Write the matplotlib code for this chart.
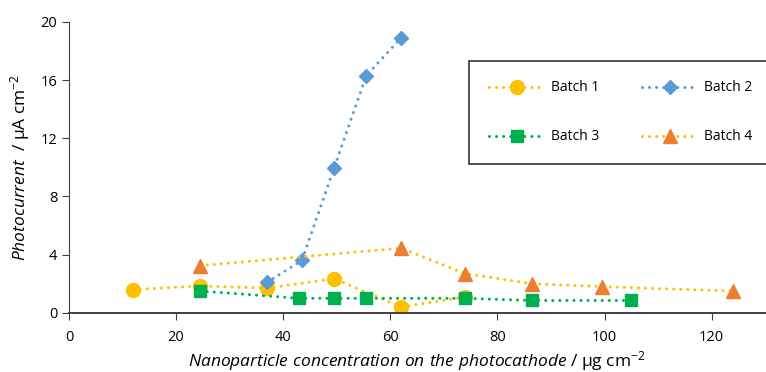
import matplotlib
matplotlib.use("Agg")
import matplotlib.pyplot as plt

plt.rcParams['font.family'] = ['Open Sans', 'DejaVu Sans']
plt.rcParams['mathtext.fontset'] = 'custom'
plt.rcParams['mathtext.rm'] = 'Open Sans'
plt.rcParams['mathtext.it'] = 'Open Sans:italic'

# data
b1_x = [12, 24.5, 37, 49.5, 62, 74]
b1_y = [1.6, 1.85, 1.7, 2.35, 0.4, 1.1]
b2_x = [37, 43.5, 49.5, 55.5, 62]
b2_y = [2.1, 3.6, 9.95, 16.3, 18.9]
b3_x = [24.5, 43, 49.5, 55.5, 74, 86.5, 105]
b3_y = [1.5, 1.0, 1.0, 1.0, 1.0, 0.85, 0.85]
b4_x = [24.5, 62, 74, 86.5, 99.5, 124]
b4_y = [3.25, 4.45, 2.7, 2.0, 1.8, 1.5]

yellow = '#FFC000'
blue = '#5B9BD5'
green = '#00B050'
orange = '#ED7D31'

fig = plt.figure(figsize=(7.66, 3.72), dpi=100)
ax = fig.add_axes([0.09, 0.159, 0.909, 0.782])

dots = (0, (0.01, 2.3))
l1, = ax.plot(b1_x, b1_y, ls=dots, lw=2.2, color=yellow, marker='o', ms=10,
              mfc=yellow, mec=yellow, label='Batch 1', dash_capstyle='round')
l2, = ax.plot(b2_x, b2_y, ls=dots, lw=2.2, color=blue, marker='D', ms=7.5,
              mfc=blue, mec=blue, label='Batch 2', dash_capstyle='round')
l3, = ax.plot(b3_x, b3_y, ls=dots, lw=2.2, color=green, marker='s', ms=9,
              mfc=green, mec=green, label='Batch 3', dash_capstyle='round')
l4, = ax.plot(b4_x, b4_y, ls=dots, lw=2.2, color=yellow, marker='^', ms=9.5,
              mfc=orange, mec=orange, label='Batch 4', dash_capstyle='round')

ax.set_xlim(0, 130)
ax.set_ylim(0, 20)
ax.set_xticks([0, 20, 40, 60, 80, 100, 120])
ax.set_yticks([0, 4, 8, 12, 16, 20])
ax.spines['top'].set_visible(False)
ax.spines['right'].set_visible(False)
for s in ['left', 'bottom']:
    ax.spines[s].set_color('#404040')
ax.spines['bottom'].set_linewidth(1.4)
ax.tick_params(axis='both', labelsize=10.5, color='#404040', length=5, direction='out')
ax.tick_params(axis='x', pad=7)

ax.set_xlabel(r'$\it{Nanoparticle\ concentration\ on\ the\ photocathode}$ / µg cm$^{-2}$',
              fontsize=12.5, labelpad=3)
ax.set_ylabel(r'$\it{Photocurrent}$  / µA cm$^{-2}$', fontsize=12.5, labelpad=6)

# row-wise order like the original: 1 2 / 3 4
leg = ax.legend([l1, l3, l2, l4], ['Batch 1', 'Batch 3', 'Batch 2', 'Batch 4'],
                ncol=2, loc='upper left', bbox_to_anchor=(0.575, 0.866), frameon=True,
                fancybox=False, edgecolor='black', fontsize=10, handlelength=4.0,
                columnspacing=3.1, labelspacing=2.45, borderpad=1.4, numpoints=1,
                handletextpad=0.45, borderaxespad=0)
leg.get_frame().set_linewidth(1.2)
leg.set_clip_on(False)

fig.savefig('out.png', dpi=100)
